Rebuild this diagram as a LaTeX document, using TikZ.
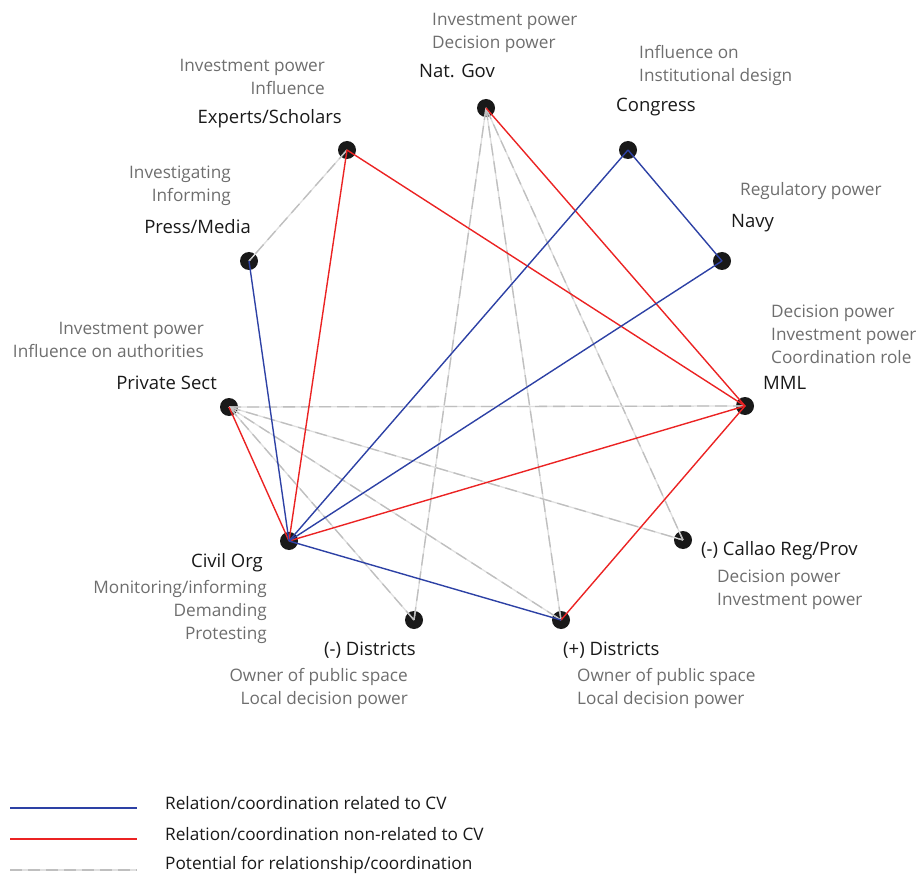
\documentclass[tikz,border=0pt]{standalone}
\usepackage{fontspec}
\setmainfont{Open Sans}
\usepackage{tikz}
\usetikzlibrary{positioning,calc}
\definecolor{cvblue}{RGB}{45,65,165}
\definecolor{cvred}{RGB}{235,35,35}
\definecolor{rolegray}{RGB}{110,110,110}
\tikzset{
    actor/.style={circle, fill=black!90, minimum size=18pt, inner sep=0pt},
    actorname/.style={inner sep=0pt, text=black!90, font=\fontsize{18.5}{20}\selectfont},
    role/.style={inner sep=0pt, text=rolegray, font=\fontsize{17.2}{23}\selectfont},
    rel/.style={draw=cvblue, line width=1.4pt},
    nonrel/.style={draw=cvred, line width=1.4pt},
    potential/.style={draw=black!12, line width=1.3pt, postaction={draw=black!25, line width=1.3pt, dash pattern=on 12pt off 6pt}},
    legendtext/.style={inner sep=0pt, anchor=west, text=black!90, font=\fontsize{17.2}{20}\selectfont}
}

\begin{document}
\begin{tikzpicture}[x=1pt, y=-1pt]
    \useasboundingbox (0,0) rectangle (921,877);

    % Actors
    \node [actor] (natgov) at (486,108) {};
    \node [actor] (congress) at (628,150) {};
    \node [actor] (navy) at (722,261) {};
    \node [actor] (mml) at (745,406) {};
    \node [actor] (callao) at (683,540) {};
    \node [actor] (plusdist) at (561,620) {};
    \node [actor] (minusdist) at (414,620) {};
    \node [actor] (civil) at (289,541) {};
    \node [actor] (private) at (229,407) {};
    \node [actor] (press) at (249,261) {};
    \node [actor] (experts) at (347,150) {};

    % Names
    \node [actorname, anchor=east] (natgovname) at ([shift={(9,-37)}]natgov) {Nat. Gov};
    \node [actorname, anchor=west] (congressname) at ([shift={(-12,-43)}]congress) {Congress};
    \node [actorname, anchor=west] (navyname) at ([shift={(9,-38)}]navy) {Navy};
    \node [actorname, anchor=west] (mmlname) at ([shift={(18,-23)}]mml) {MML};
    \node [actorname, anchor=west] (callaoname) at ([shift={(18,11)}]callao) {(-) Callao Reg/Prov};
    \node [actorname, anchor=west] (plusdistname) at ([shift={(2,30)}]plusdist) {(+) Districts};
    \node [actorname, anchor=east] (minusdistname) at ([shift={(2,30)}]minusdist) {(-) Districts};
    \node [actorname, anchor=east] (civilname) at ([shift={(-26,22)}]civil) {Civil Org};
    \node [actorname, anchor=east] (privatename) at ([shift={(-12,-24)}]private) {Private Sect};
    \node [actorname, anchor=east] (pressname) at ([shift={(2,-34)}]press) {Press/Media};
    \node [actorname, anchor=east] (expertsname) at ([shift={(-5,-31)}]experts) {Experts/Scholars};

    % Roles
    \node [role, align=left, anchor=north west] (natgovrole) at ([shift={(-54,-95)}]natgov) {Investment power\\Decision power};
    \node [role, align=left, anchor=north west] (congressrole) at ([shift={(11,-105)}]congress) {Influence on\\Institutional design};
    \node [role, align=left, anchor=north west] (navyrole) at ([shift={(18,-79)}]navy) {Regulatory power};
    \node [role, align=left, anchor=north west] (mmlrole) at ([shift={(26,-101)}]mml) {Decision power\\Investment power\\Coordination role};
    \node [role, align=left, anchor=north west] (callaorole) at ([shift={(34,30)}]callao) {Decision power\\Investment power};
    \node [role, align=left, anchor=north west] (plusdistrole) at ([shift={(16,48)}]plusdist) {Owner of public space\\Local decision power};
    \node [role, align=right, anchor=north east] (minusdistrole) at ([shift={(-6,48)}]minusdist) {Owner of public space\\Local decision power};
    \node [role, align=right, anchor=north east] (civilrole) at ([shift={(-22,39)}]civil) {Monitoring/informing\\Demanding\\Protesting};
    \node [role, align=right, anchor=north east] (privaterole) at ([shift={(-25,-85)}]private) {Investment power\\Influence on authorities};
    \node [role, align=right, anchor=north east] (pressrole) at ([shift={(-18,-95)}]press) {Investigating\\Informing};
    \node [role, align=right, anchor=north east] (expertsrole) at ([shift={(-22,-91)}]experts) {Investment power\\Influence};

    % Potential relations
    \foreach \a/\b in {experts/press, natgov/minusdist, natgov/plusdist, natgov/callao,
        private/mml, private/callao, private/plusdist, private/minusdist}
        \path [potential] (\a.center) -- (\b.center);

    % Relations non-related to CV
    \foreach \a/\b in {experts/civil, experts/mml, natgov/mml, mml/civil, mml/plusdist, private/civil}
        \path [nonrel] (\a.center) -- (\b.center);

    % Relations related to CV
    \foreach \a/\b in {congress/navy, congress/civil, navy/civil, press/civil, civil/plusdist}
        \path [rel] (\a.center) -- (\b.center);

    % Legend
    \coordinate (relstart) at (10,808);
    \coordinate (relend) at (137,808);
    \coordinate (nonrelstart) at (10,839);
    \coordinate (nonrelend) at (137,839);
    \coordinate (potstart) at (10,870);
    \coordinate (potend) at (137,870);
    \path [rel] (relstart) -- (relend);
    \path [nonrel] (nonrelstart) -- (nonrelend);
    \path [potential] (potstart) -- (potend);
    \node [legendtext] (reltext) at (165,803) {Relation/coordination related to CV};
    \node [legendtext] (nonreltext) at (165,834) {Relation/coordination non-related to CV};
    \node [legendtext] (pottext) at (165,865) {Potential for relationship/coordination};
\end{tikzpicture}
\end{document}
